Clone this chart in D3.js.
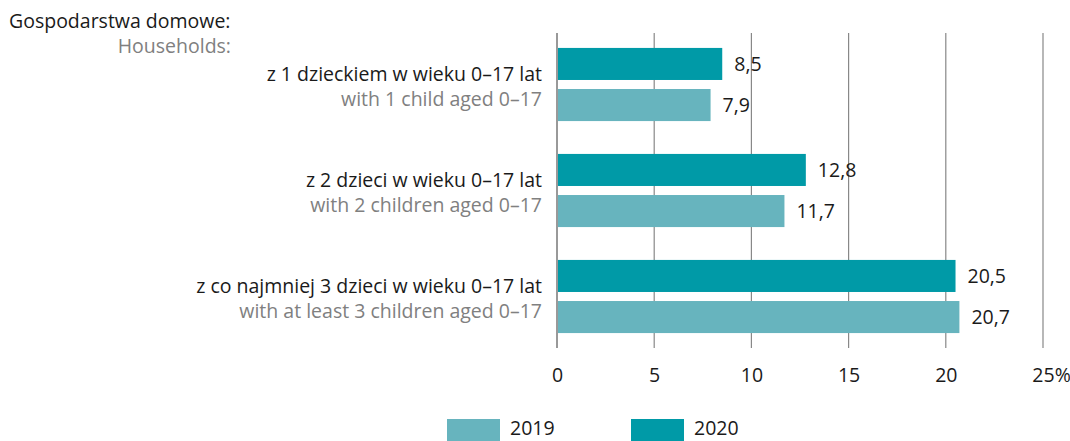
<!DOCTYPE html>
<html><head><meta charset="utf-8">
<script src="https://cdn.jsdelivr.net/npm/d3@7"></script>
<style>
body{margin:0;background:#fff;}
text{font-family:"Open Sans",sans-serif;}
</style></head>
<body><svg id="c" width="1070" height="441"></svg>
<script>
const categoriesPL = ["z 1 dzieckiem w wieku 0–17 lat","z 2 dzieci w wieku 0–17 lat","z co najmniej 3 dzieci w wieku 0–17 lat"];
const categoriesEN = ["with 1 child aged 0–17","with 2 children aged 0–17","with at least 3 children aged 0–17"];
const series = ["2020","2019"];
const values2020 = [8.5, 12.8, 20.5];
const values2019 = [7.9, 11.7, 20.7];
const ticks = [0,5,10,15,20,25];
const tickLabels = ["0","5","10","15","20","25%"];
const legendOrder = ["2019","2020"];

const FS = 19.5;
const colors = {"2020":"#009AA7","2019":"#67B4BE"};
const svg = d3.select("#c");
const fmt = v => String(v.toFixed(1)).replace(".", ",");

const x = d3.scaleLinear().domain([0,25]).range([557,1043]);
const y = d3.scaleBand().domain(categoriesPL).range([31.5,349.5]).paddingInner(0.31).paddingOuter(0.155);
const yi = d3.scaleBand().domain(series).range([0,y.bandwidth()]).paddingInner(0.22);

// gridlines
svg.append("g").selectAll("line").data(ticks).join("line")
  .attr("x1",d=>x(d)).attr("x2",d=>x(d)).attr("y1",33).attr("y2",348)
  .attr("stroke",d=>d===0?"#555":"#888").attr("stroke-width",1.2);

// axis labels
const ax = d3.axisBottom(x).tickValues(ticks).tickFormat((d,i)=>tickLabels[i]).tickSize(0).tickPadding(0);
const axg = svg.append("g").attr("transform","translate(0,375)").call(ax);
axg.select(".domain").remove();
axg.selectAll("text").attr("font-size",FS).attr("fill","#1a1a1a").attr("font-family","Open Sans").attr("y",0).attr("dy","0.36em");
// last label: number centred on gridline, % hanging to the right
axg.selectAll(".tick").filter((d,i)=>i===ticks.length-1).select("text").each(function(){
  const t = d3.select(this);
  const num = String(ticks[ticks.length-1]);
  const tmp = svg.append("text").attr("font-size",FS).text(num);
  const w = tmp.node().getComputedTextLength(); tmp.remove();
  t.attr("text-anchor","start").attr("x",-w/2);
});

const data = categoriesPL.map((c,i)=>({cat:c, en:categoriesEN[i], vals:{"2020":values2020[i],"2019":values2019[i]}}));

const g = svg.append("g").selectAll("g").data(data).join("g")
  .attr("transform",d=>`translate(0,${y(d.cat)})`);

g.selectAll("rect").data(d=>series.map(s=>({s,v:d.vals[s]}))).join("rect")
  .attr("x",x(0)+1).attr("y",d=>yi(d.s)).attr("height",yi.bandwidth())
  .attr("width",d=>x(d.v)-x(0)-1).attr("fill",d=>colors[d.s]);

g.selectAll("text.val").data(d=>series.map(s=>({s,v:d.vals[s]}))).join("text")
  .attr("class","val").attr("x",d=>x(d.v)+12).attr("y",d=>yi(d.s)+yi.bandwidth()/2)
  .attr("dy","0.36em").attr("font-size",FS).attr("fill","#1a1a1a").text(d=>fmt(d.v));

g.append("text").attr("x",542).attr("y",y.bandwidth()/2-10.5).attr("dy","0.36em")
  .attr("text-anchor","end").attr("font-size",FS).attr("fill","#1a1a1a").text(d=>d.cat);
g.append("text").attr("x",542).attr("y",y.bandwidth()/2+14).attr("dy","0.36em")
  .attr("text-anchor","end").attr("font-size",FS).attr("fill","#808080").text(d=>d.en);

svg.append("text").attr("x",9).attr("y",20.5).attr("dy","0.36em").attr("font-size",FS).attr("fill","#1a1a1a").text("Gospodarstwa domowe:");
svg.append("text").attr("x",231).attr("y",45.5).attr("dy","0.36em").attr("text-anchor","end").attr("font-size",FS).attr("fill","#808080").text("Households:");

const lg = svg.append("g").selectAll("g").data(legendOrder).join("g")
  .attr("transform",(d,i)=>`translate(${447+i*184},419)`);
lg.append("rect").attr("width",53).attr("height",22).attr("fill",d=>colors[d]);
lg.append("text").attr("x",63).attr("y",16).attr("font-size",FS).attr("fill","#1a1a1a").text(d=>d);
</script></body></html>
